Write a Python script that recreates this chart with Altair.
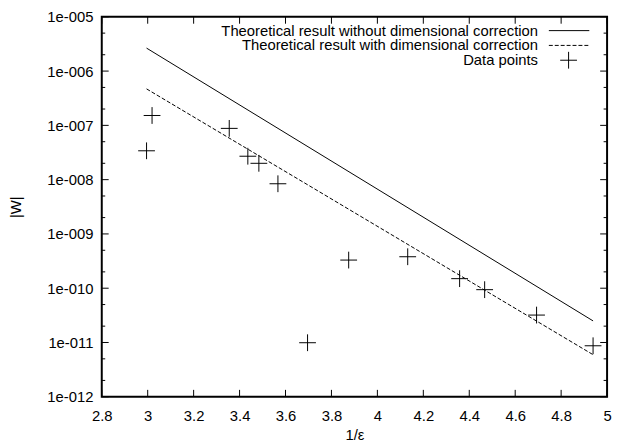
import altair as alt
import pandas as pd

# ---- data ----
x_ticks = [2.8, 3.0, 3.2, 3.4, 3.6, 3.8, 4.0, 4.2, 4.4, 4.6, 4.8, 5.0]
y_ticks = [1e-12, 1e-11, 1e-10, 1e-9, 1e-8, 1e-7, 1e-6, 1e-5]
y_tick_labels = ["1e-012", "1e-011", "1e-010", "1e-009", "1e-008", "1e-007", "1e-006", "1e-005"]
y_minor = [2e-12, 5e-12, 2e-11, 5e-11, 2e-10, 5e-10, 2e-9, 5e-9,
           2e-8, 5e-8, 2e-7, 5e-7, 2e-6, 5e-6]

line_x = [2.995, 4.939]
line_no_corr = [2.65e-6, 2.5e-11]
line_corr = [4.7e-7, 5.96e-12]

pts_x = [2.995, 3.019, 3.355, 3.436, 3.484, 3.567, 3.696, 3.875, 4.132, 4.358, 4.467, 4.693, 4.939]
pts_y = [3.4e-8, 1.52e-7, 8.8e-8, 2.7e-8, 2.0e-8, 8.4e-9, 9.9e-12, 3.3e-10, 3.8e-10, 1.5e-10, 9.4e-11, 3.2e-11, 8.7e-12]

legend_labels = ["Theoretical result without dimensional correction",
                 "Theoretical result with dimensional correction",
                 "Data points"]

W, H = 512, 385
FONT = "Liberation Sans"
FS = 15
CROSS = "M-1,0L1,0M0,-1L0,1"

xs = alt.Scale(domain=[2.8, 5.0], nice=False, zero=False)
ys = alt.Scale(type="log", domain=[1e-12, 1e-5], nice=False)

label_arr = "[" + ",".join("'%s'" % s for s in y_tick_labels) + "]"
xaxis = alt.Axis(values=x_ticks, format="~g", title="1/ε", grid=False, domain=False,
                 ticks=False, labelPadding=19, labelBaseline="middle", labelFlush=False,
                 labelFont=FONT, labelFontSize=FS, titleFont=FONT, titleFontSize=FS,
                 titleFontWeight="normal", labelColor="black", titleColor="black",
                 titleX=W / 2, titleY=38, titleBaseline="middle", titleAlign="center")
yaxis = alt.Axis(values=y_ticks, labelExpr=label_arr + "[round(log(datum.value)/LN10)+12]",
                 title="|W|", grid=False, domain=False, ticks=False, labelPadding=9,
                 labelBaseline="middle", labelFlush=False,
                 labelFont=FONT, labelFontSize=FS, titleFont=FONT, titleFontSize=FS,
                 titleFontWeight="normal", labelColor="black", titleColor="black",
                 titleX=-87, titleY=H / 2, titleAngle=270, titleAlign="center",
                 titleBaseline="middle")


def X(f):
    return alt.X(f, type="quantitative", scale=xs, axis=xaxis)


def Y(f):
    return alt.Y(f, type="quantitative", scale=ys, axis=yaxis)


lines_df = pd.DataFrame({"x": line_x, "a": line_no_corr, "b": line_corr})
pts_df = pd.DataFrame({"x": pts_x, "y": pts_y})
xt_df = pd.DataFrame({"x": x_ticks})
yt_df = pd.DataFrame({"y": y_ticks})
ym_df = pd.DataFrame({"y": y_minor})

solid = alt.Chart(lines_df).mark_line(color="black", strokeWidth=1).encode(x=X("x"), y=Y("a"))
dashed = alt.Chart(lines_df).mark_line(color="black", strokeWidth=1, strokeDash=[4, 2]).encode(
    x=X("x"), y=Y("b"))
points = alt.Chart(pts_df).mark_point(shape=CROSS, size=289, filled=False, color="black",
                                      strokeWidth=1, opacity=1).encode(x=X("x"), y=Y("y"))

rule = dict(color="black", strokeWidth=1)
xt_bot = alt.Chart(xt_df).mark_rule(**rule).encode(x=X("x"), y=alt.value(H), y2=alt.value(H - 7))
xt_top = alt.Chart(xt_df).mark_rule(**rule).encode(x=X("x"), y=alt.value(0), y2=alt.value(7))
yt_l = alt.Chart(yt_df).mark_rule(**rule).encode(y=Y("y"), x=alt.value(0), x2=alt.value(7))
yt_r = alt.Chart(yt_df).mark_rule(**rule).encode(y=Y("y"), x=alt.value(W), x2=alt.value(W - 7))
ym_l = alt.Chart(ym_df).mark_rule(**rule).encode(y=Y("y"), x=alt.value(0), x2=alt.value(3.5))
ym_r = alt.Chart(ym_df).mark_rule(**rule).encode(y=Y("y"), x=alt.value(W), x2=alt.value(W - 3.5))

legend_layers = []
LX, LY0, DY = 442, 14, 15
for i, lab in enumerate(legend_labels):
    d = pd.DataFrame({"label": [lab]})
    legend_layers.append(
        alt.Chart(d).mark_text(align="right", baseline="middle", font=FONT, fontSize=FS,
                               color="black").encode(text="label:N", x=alt.value(LX),
                                                     y=alt.value(LY0 + DY * i)))
d0 = pd.DataFrame({"label": [legend_labels[0]]})
d1 = pd.DataFrame({"label": [legend_labels[1]]})
d2 = pd.DataFrame({"label": [legend_labels[2]]})
legend_layers.append(alt.Chart(d0).mark_rule(color="black", strokeWidth=1).encode(
    x=alt.value(453), x2=alt.value(494), y=alt.value(LY0)))
legend_layers.append(alt.Chart(d1).mark_rule(color="black", strokeWidth=1, strokeDash=[4, 2]).encode(
    x=alt.value(453), x2=alt.value(494), y=alt.value(LY0 + DY)))
legend_layers.append(alt.Chart(d2).mark_point(shape=CROSS, size=289, filled=False, color="black",
                                              strokeWidth=1, opacity=1).encode(
    x=alt.value(473), y=alt.value(LY0 + 2 * DY)))

chart = alt.layer(solid, dashed, points, xt_bot, xt_top, yt_l, yt_r, ym_l, ym_r,
                  *legend_layers).properties(
    width=W, height=H,
    background="white",
    autosize=alt.AutoSizeParams(type="none"),
    padding={"left": 95, "top": 6, "right": 6, "bottom": 50},
).configure_view(stroke="black", strokeWidth=2).configure_axis(
    labelFont=FONT, labelFontSize=FS, titleFont=FONT, titleFontSize=FS,
    titleFontWeight="normal", labelColor="black", titleColor="black",
)

chart.save("out.html", embed_options={"renderer": "svg", "actions": False})
